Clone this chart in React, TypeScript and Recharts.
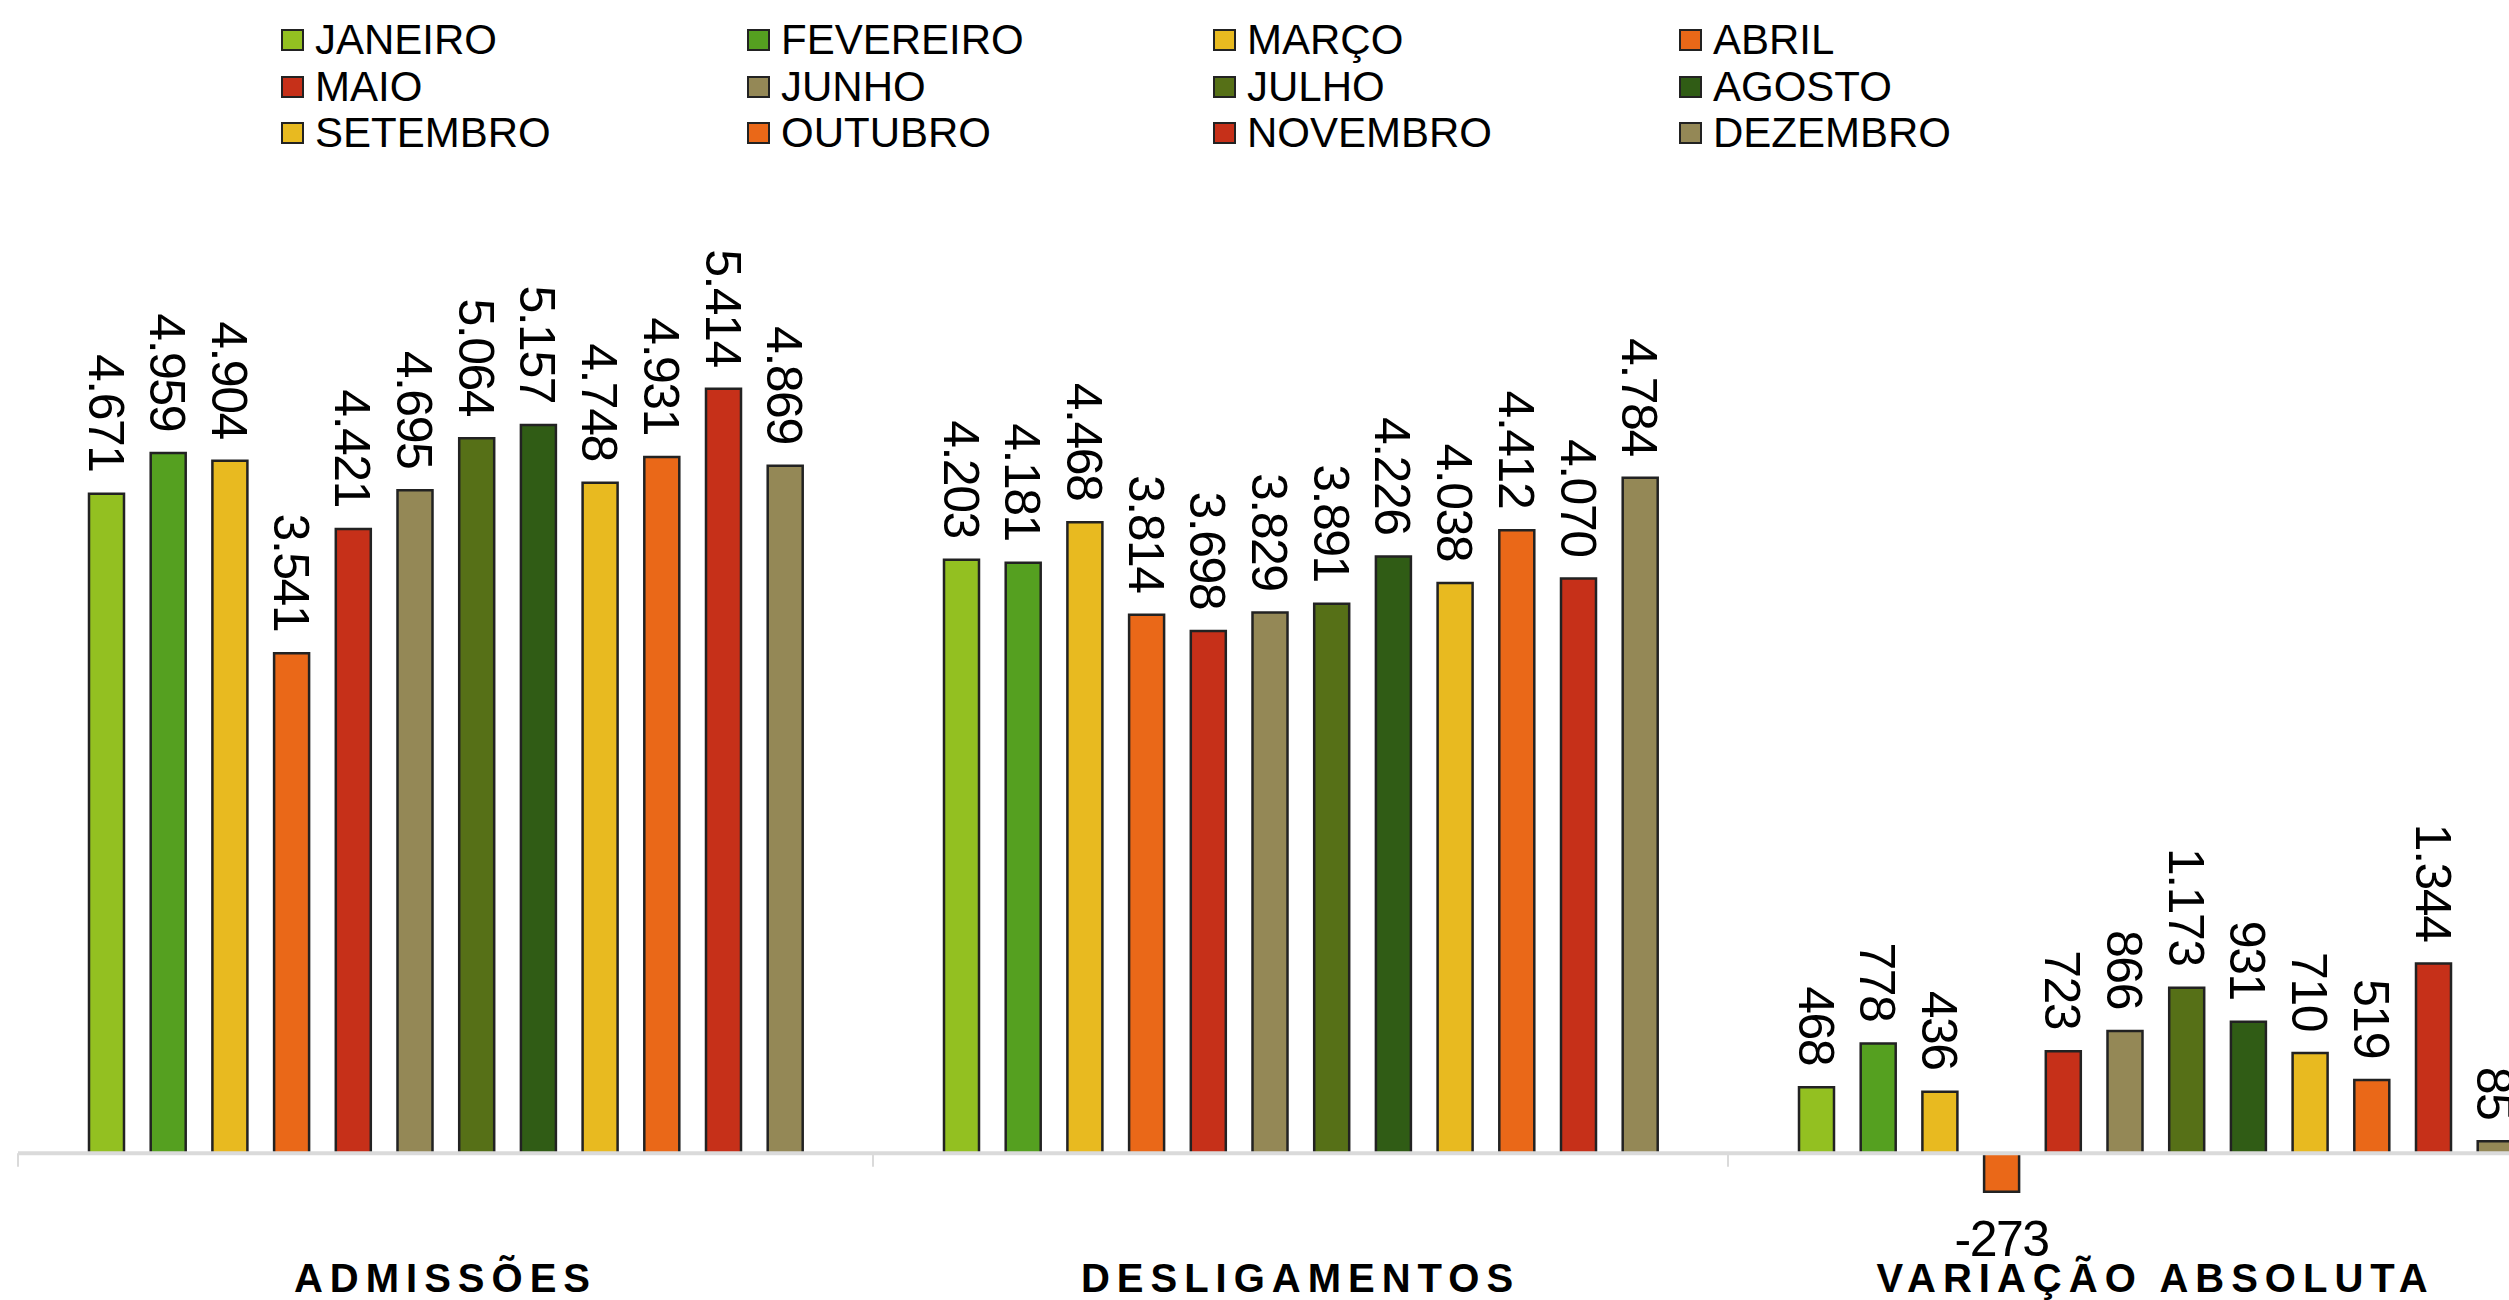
import React from "react";
import {
  Bar,
  BarChart,
  LabelList,
  Legend,
  ReferenceLine,
  XAxis,
  YAxis,
} from "recharts";

const categories = ["ADMISSÕES", "DESLIGAMENTOS", "VARIAÇÃO ABSOLUTA"];

const months = [
  "JANEIRO",
  "FEVEREIRO",
  "MARÇO",
  "ABRIL",
  "MAIO",
  "JUNHO",
  "JULHO",
  "AGOSTO",
  "SETEMBRO",
  "OUTUBRO",
  "NOVEMBRO",
  "DEZEMBRO",
];

const admissoes = [4671, 4959, 4904, 3541, 4421, 4695, 5064, 5157, 4748, 4931, 5414, 4869];
const desligamentos = [4203, 4181, 4468, 3814, 3698, 3829, 3891, 4226, 4038, 4412, 4070, 4784];
const variacao = [468, 778, 436, -273, 723, 866, 1173, 931, 710, 519, 1344, 85];

const colors = [
  "#93c021",
  "#55a020",
  "#e8ba20",
  "#ea6818",
  "#c63019",
  "#948856",
  "#567017",
  "#305c15",
  "#e8ba20",
  "#ea6818",
  "#c63019",
  "#948856",
];

const series = [admissoes, desligamentos, variacao];

const data = categories.map((name, i) => {
  const row: Record<string, string | number> = { name };
  months.forEach((m, j) => {
    row[m] = series[i][j];
  });
  return row;
});

const FONT = '"Liberation Sans", Arial, sans-serif';

const fmt = (v: number) => {
  const s = Math.abs(v)
    .toString()
    .replace(/\B(?=(\d{3})+(?!\d))/g, ".");
  return v < 0 ? "-" + s : s;
};

const renderLabel = (props: any) => {
  const vb = props.viewBox ?? {};
  const x = Number(props.x ?? vb.x);
  const y = Number(props.y ?? vb.y);
  const w = Number(props.width ?? vb.width);
  const h = Number(props.height ?? vb.height);
  const value = Number(props.value);
  const cx = x + w / 2;
  const top = Math.min(y, y + h);
  const bottom = Math.max(y, y + h);

  if (value < 0) {
    return (
      <text
        x={cx}
        y={bottom + 64}
        textAnchor="middle"
        fontSize={50}
        letterSpacing={-1.5}
        fontFamily={FONT}
        fill="#000"
      >
        {fmt(value)}
      </text>
    );
  }
  const ly = top - 22;
  return (
    <text
      x={cx}
      y={ly}
      dy="0.36em"
      textAnchor="end"
      transform={`rotate(90, ${cx}, ${ly})`}
      fontSize={50}
      letterSpacing={-1.5}
      fontFamily={FONT}
      fill="#000"
    >
      {fmt(value)}
    </text>
  );
};

const CategoryTick = (props: any) => {
  const { x, y, payload } = props;
  return (
    <text
      x={x}
      y={y}
      dy={54}
      textAnchor="middle"
      fontSize={40}
      fontWeight="bold"
      letterSpacing={7}
      fontFamily={FONT}
      fill="#000"
    >
      {payload.value}
    </text>
  );
};

const renderLegend = () => (
  <div
    style={{
      display: "grid",
      gridTemplateColumns: "repeat(4, 466px)",
      fontFamily: FONT,
      fontSize: 42,
      lineHeight: "46.5px",
      color: "#000",
    }}
  >
    {months.map((m, i) => (
      <div key={m} style={{ display: "flex", alignItems: "center" }}>
        <span
          style={{
            display: "inline-block",
            width: 19,
            height: 18,
            background: colors[i],
            border: "2px solid #222",
            marginRight: 11,
          }}
        />
        <span>{m}</span>
      </div>
    ))}
  </div>
);

export default function App() {
  return (
    <div
      style={{
        position: "absolute",
        left: 0,
        top: 0,
        width: 2509,
        height: 1300,
        overflow: "hidden",
        background: "#fff",
      }}
    >
      <BarChart
        width={2600}
        height={1300}
        data={data}
        margin={{ top: 306, right: 17, left: 18, bottom: 2 }}
        barSize={35}
        barGap={26.7}
      >
        <XAxis
          dataKey="name"
          axisLine={false}
          tickLine={false}
          tickSize={0}
          tickMargin={0}
          height={60}
          interval={0}
          tick={<CategoryTick />}
        />
        <YAxis hide domain={[-600, 6000]} allowDataOverflow />
        <Legend
          layout="horizontal"
          verticalAlign="middle"
          align="center"
          content={renderLegend}
          wrapperStyle={{ position: "absolute", top: 17, left: 281, width: 1900, height: 140 }}
        />
        <ReferenceLine y={0} stroke="#dadada" strokeWidth={4} />
        {categories.map((c) => (
          <ReferenceLine
            key={c}
            position="start"
            segment={[
              { x: c, y: 0 },
              { x: c, y: -95 },
            ]}
            stroke="#dadada"
            strokeWidth={2}
          />
        ))}
        {months.map((m, i) => (
          <Bar
            key={m}
            dataKey={m}
            name={m}
            fill={colors[i]}
            stroke="#222"
            strokeWidth={2.5}
            isAnimationActive={false}
          >
            <LabelList dataKey={m} content={renderLabel} />
          </Bar>
        ))}
      </BarChart>
    </div>
  );
}
